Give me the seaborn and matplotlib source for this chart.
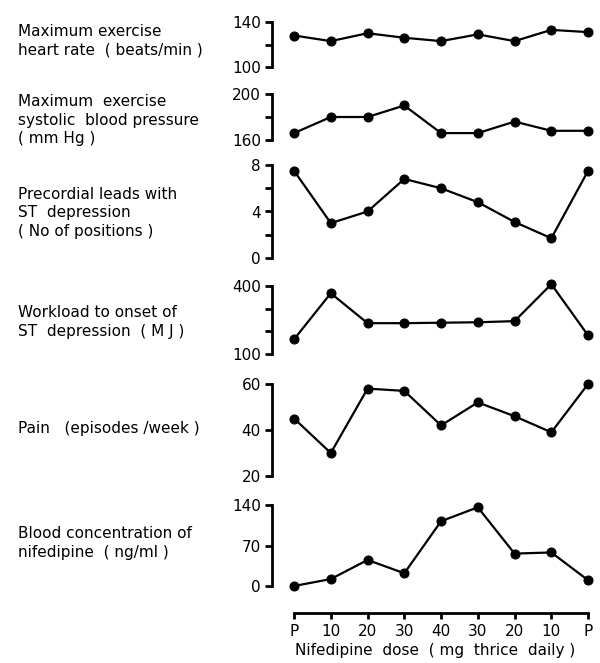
import matplotlib
matplotlib.use("Agg")
import matplotlib.pyplot as plt
import pandas as pd
import seaborn as sns

# Data
doses = ['P', '10', '20', '30', '40', '30', '20', '10', 'P']
heart_rate = [128, 123, 130, 126, 123, 129, 123, 133, 131]
systolic_bp = [166, 180, 180, 190, 166, 166, 176, 168, 168]
st_leads = [7.5, 3.0, 4.0, 6.8, 6.0, 4.8, 3.1, 1.7, 7.5]
workload = [165, 368, 236, 236, 238, 240, 245, 408, 182]
pain = [45, 30, 58, 57, 42, 52, 46, 39, 60]
blood_conc = [0, 12, 45, 22, 112, 136, 56, 58, 10]

labels = [
    "Maximum exercise\nheart rate  ( beats/min )",
    "Maximum  exercise\nsystolic  blood pressure\n( mm Hg )",
    "Precordial leads with\nST  depression\n( No of positions )",
    "Workload to onset of\nST  depression  ( M J )",
    "Pain   (episodes /week )",
    "Blood concentration of\nnifedipine  ( ng/ml )",
]

sns.set_style("white")
plt.rcParams['font.family'] = ['DejaVu Sans']
plt.rcParams.update({
    'text.color': 'black', 'axes.labelcolor': 'black', 'axes.edgecolor': 'black',
    'xtick.color': 'black', 'ytick.color': 'black',
})

W, H = 600, 663
fig = plt.figure(figsize=(6, 6.63), dpi=100)

left = 272 / W
width = (598 - 272) / W
xlim = (-0.6, 8.27)

# (series, ymin, ymax, ticks, ticklabels, top px, bottom px, label center px)
panels = [
    (heart_rate, 100, 140, [100, 120, 140], ['100', '', '140'], 22, 67, 41),
    (systolic_bp, 160, 200, [160, 180, 200], ['160', '', '200'], 94, 140, 120),
    (st_leads, 0, 8, [0, 2, 4, 6, 8], ['0', '', '4', '', '8'], 165, 258, 213),
    (workload, 100, 400, [100, 200, 300, 400], ['100', '', '', '400'], 286, 354, 322),
    (pain, 20, 60, [20, 40, 60], ['20', '40', '60'], 384, 476, 428),
    (blood_conc, 0, 140, [0, 70, 140], ['0', '70', '140'], 505, 586, 543),
]

x = list(range(len(doses)))

for (vals, lo, hi, ticks, tlabels, top, bot, lab_y), label in zip(panels, labels):
    ax = fig.add_axes([left, 1 - bot / H, width, (bot - top) / H])
    df = pd.DataFrame({'x': x, 'y': vals})
    sns.lineplot(data=df, x='x', y='y', ax=ax, color='black', linewidth=1.6,
                 marker='o', markersize=6.5, markeredgecolor='black', clip_on=False)
    ax.set_xlim(*xlim)
    ax.set_ylim(lo, hi)
    ax.set_yticks(ticks)
    ax.set_yticklabels(tlabels)
    ax.set_xticks([])
    ax.set_xlabel('')
    ax.set_ylabel('')
    for s in ['top', 'right', 'bottom']:
        ax.spines[s].set_visible(False)
    ax.spines['left'].set_linewidth(2)
    ax.tick_params(axis='y', left=True, direction='out', length=5, width=2,
                   labelsize=11, pad=3)
    ax.patch.set_alpha(0)
    fig.text(18 / W, 1 - lab_y / H, label, ha='left', va='center', fontsize=11,
             linespacing=1.3)

# Dose axis at the bottom
axb = fig.add_axes([left, 1 - 613 / H, width, 0.0001])
axb.set_xlim(*xlim)
axb.set_yticks([])
for s in ['top', 'right', 'left']:
    axb.spines[s].set_visible(False)
axb.spines['bottom'].set_linewidth(2)
axb.spines['bottom'].set_bounds(0, 8)
axb.set_xticks(x)
axb.set_xticklabels(doses)
axb.tick_params(axis='x', bottom=True, direction='out', length=4, width=2,
                labelsize=11, pad=4)
axb.set_xlabel('Nifedipine  dose  ( mg  thrice  daily )', fontsize=11, labelpad=3)
axb.patch.set_alpha(0)

fig.savefig('out.png', dpi=100)
